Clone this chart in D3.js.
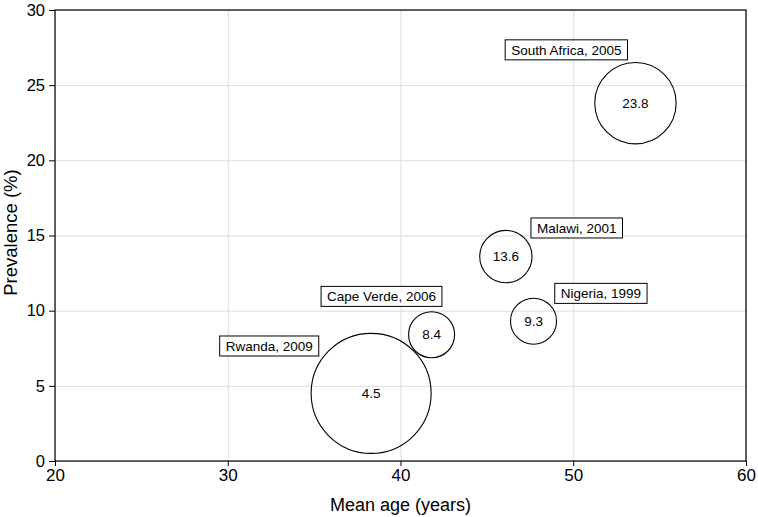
<!DOCTYPE html>
<html>
<head>
<meta charset="utf-8">
<script src="https://cdn.jsdelivr.net/npm/d3@7"></script>
<style>
  body { margin: 0; background: #fff; }
  svg text { font-family: "Liberation Sans", Arial, Helvetica, sans-serif; fill: #000; }
  .grid line { stroke: #dcdcdc; stroke-width: 1; }
  .grid path { display: none; }
  .axis path, .axis line { stroke: #000; }
</style>
</head>
<body>
<svg id="chart" width="758" height="517"></svg>
<script>
// countries, survey year, mean age, prevalence (%), relative sample size
const countries = ['South Africa', 'Malawi', 'Nigeria', 'Cape Verde', 'Rwanda'];
const years = [2005, 2001, 1999, 2006, 2009];
const meanAge = [53.6, 46.1, 47.7, 41.8, 38.3];
const prevalence = [23.8, 13.6, 9.3, 8.4, 4.5];
const sampleSize = [46, 19, 14.7, 14.7, 100];
// where each country label sits (data units)
const labelAge = [49.6, 50.2, 51.6, 38.9, 32.4];
const labelPrev = [27.35, 15.5, 11.15, 10.95, 7.65];

const xTicks = [20, 30, 40, 50, 60];
const yTicks = [0, 5, 10, 15, 20, 25, 30];

const svg = d3.select('#chart');
const margin = { top: 10, right: 12, bottom: 56, left: 55 };
const width = 758 - margin.left - margin.right;
const height = 517 - margin.top - margin.bottom;

const g = svg.append('g').attr('transform', `translate(${margin.left}, ${margin.top})`);

const x = d3.scaleLinear().domain([20, 60]).range([0, width]);
const y = d3.scaleLinear().domain([0, 30]).range([height, 0]);
const r = d3.scaleSqrt().domain([0, 100]).range([0, 60]);

// grid
g.append('g').attr('class', 'grid')
    .attr('transform', `translate(0, ${height})`)
    .call(d3.axisBottom(x).tickValues(xTicks).tickSize(-height).tickFormat(''));
g.append('g').attr('class', 'grid')
    .call(d3.axisLeft(y).tickValues(yTicks).tickSize(-width).tickFormat(''));

// frame
g.append('rect')
    .attr('width', width)
    .attr('height', height)
    .attr('fill', 'none')
    .attr('stroke', '#000')
    .attr('stroke-width', 1.2);

// axes
const xAxis = g.append('g').attr('class', 'axis')
    .attr('transform', `translate(0, ${height})`)
    .call(d3.axisBottom(x).tickValues(xTicks).tickSize(5).tickPadding(3));
xAxis.select('.domain').remove();
xAxis.selectAll('text').style('font-size', '17px');
const yAxis = g.append('g').attr('class', 'axis')
    .call(d3.axisLeft(y).tickValues(yTicks).tickSize(6).tickPadding(4));
yAxis.select('.domain').remove();
yAxis.selectAll('text').style('font-size', '16.5px');

// axis titles
svg.append('text')
    .attr('x', margin.left + width / 2)
    .attr('y', 511)
    .attr('text-anchor', 'middle')
    .style('font-size', '18px')
    .text('Mean age (years)');
svg.append('text')
    .attr('transform', `translate(17, ${margin.top + height / 2 - 3}) rotate(-90)`)
    .attr('text-anchor', 'middle')
    .style('font-size', '18.5px')
    .text('Prevalence (%)');

// bubbles
const data = countries.map((c, i) => ({
    name: c, year: years[i], age: meanAge[i], prev: prevalence[i],
    size: sampleSize[i], lx: labelAge[i], ly: labelPrev[i]
}));

const bubble = g.selectAll('.bubble').data(data).enter().append('g').attr('class', 'bubble');
bubble.append('circle')
    .attr('cx', d => x(d.age))
    .attr('cy', d => y(d.prev))
    .attr('r', d => r(d.size))
    .attr('fill', 'none')
    .attr('stroke', '#000')
    .attr('stroke-width', 1.1);
bubble.append('text')
    .attr('x', d => x(d.age))
    .attr('y', d => y(d.prev))
    .attr('dy', '0.35em')
    .attr('text-anchor', 'middle')
    .style('font-size', '13.5px')
    .text(d => d.prev.toFixed(1));

// country labels in boxes
const label = g.selectAll('.label').data(data).enter().append('g')
    .attr('class', 'label')
    .attr('transform', d => `translate(${x(d.lx)}, ${y(d.ly)})`);
label.append('text')
    .attr('text-anchor', 'middle')
    .attr('dy', '0.35em')
    .style('font-size', '13.5px')
    .text(d => `${d.name}, ${d.year}`);
label.each(function () {
    const t = d3.select(this).select('text').node().getBBox();
    d3.select(this).insert('rect', 'text')
        .attr('x', t.x - 6)
        .attr('y', -10)
        .attr('width', t.width + 12)
        .attr('height', 20)
        .attr('fill', '#fff')
        .attr('stroke', '#000')
        .attr('stroke-width', 1);
});
</script>
</body>
</html>
